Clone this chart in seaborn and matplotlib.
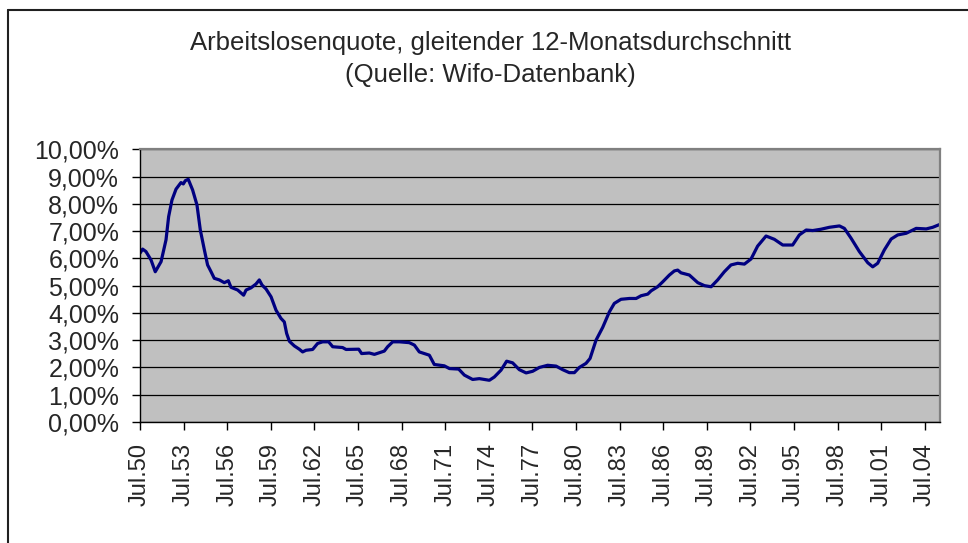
import matplotlib
matplotlib.use("Agg")
import matplotlib.pyplot as plt
from matplotlib.lines import Line2D
import seaborn as sns
import pandas as pd

# 12-month moving average of the unemployment rate
years = [1950.50, 1950.68, 1950.91, 1951.26, 1951.55, 1951.95, 1952.29, 1952.47, 1952.70, 1952.98,
         1953.32, 1953.48, 1953.62, 1953.82, 1954.12, 1954.42, 1954.65, 1954.93, 1955.15, 1955.39,
         1955.61, 1955.96, 1956.30, 1956.58, 1956.76, 1957.22, 1957.63, 1957.80, 1958.14, 1958.48,
         1958.71, 1958.90, 1959.17, 1959.52, 1959.86, 1960.20, 1960.43, 1960.59, 1960.78, 1961.12,
         1961.46, 1961.69, 1961.92, 1962.38, 1962.72, 1963.07, 1963.48, 1963.76, 1964.44, 1964.68,
         1965.55, 1965.75, 1966.28, 1966.63, 1967.31, 1967.54, 1967.89, 1968.35, 1969.03, 1969.38,
         1969.72, 1970.41, 1970.75, 1971.44, 1971.79, 1972.43, 1972.82, 1973.39, 1973.85, 1974.54,
         1974.88, 1975.34, 1975.73, 1976.14, 1976.60, 1977.07, 1977.52, 1977.98, 1978.55, 1979.13,
         1979.58, 1980.04, 1980.39, 1980.73, 1981.19, 1981.47, 1981.88, 1982.34, 1982.80, 1983.14,
         1983.60, 1984.18, 1984.64, 1984.98, 1985.44, 1985.67, 1986.12, 1986.47, 1986.93, 1987.27,
         1987.50, 1987.73, 1988.30, 1988.88, 1989.34, 1989.80, 1990.25, 1990.71, 1991.17, 1991.63,
         1992.09, 1992.55, 1993.00, 1993.58, 1994.15, 1994.73, 1995.41, 1995.87, 1996.34, 1996.79,
         1997.37, 1997.94, 1998.63, 1998.97, 1999.43, 2000.00, 2000.58, 2000.92, 2001.26, 2001.72,
         2002.19, 2002.64, 2003.22, 2003.91, 2004.60, 2005.05, 2005.56]
rate = [6.19, 6.34, 6.25, 5.94, 5.51, 5.88, 6.68, 7.53, 8.14, 8.54,
        8.78, 8.73, 8.85, 8.90, 8.51, 7.96, 7.04, 6.31, 5.76, 5.51,
        5.27, 5.21, 5.11, 5.18, 4.94, 4.84, 4.65, 4.84, 4.92, 5.06,
        5.21, 5.02, 4.88, 4.59, 4.10, 3.80, 3.67, 3.25, 2.96, 2.79,
        2.67, 2.57, 2.63, 2.66, 2.88, 2.94, 2.94, 2.76, 2.73, 2.66,
        2.67, 2.51, 2.53, 2.48, 2.60, 2.76, 2.94, 2.94, 2.91, 2.82,
        2.57, 2.45, 2.11, 2.06, 1.96, 1.94, 1.72, 1.56, 1.59, 1.53,
        1.65, 1.90, 2.23, 2.17, 1.92, 1.80, 1.86, 2.00, 2.08, 2.05,
        1.92, 1.81, 1.81, 2.00, 2.15, 2.33, 3.00, 3.47, 4.04, 4.35,
        4.50, 4.53, 4.53, 4.63, 4.69, 4.81, 4.96, 5.14, 5.39, 5.54,
        5.57, 5.47, 5.39, 5.11, 5.00, 4.96, 5.21, 5.51, 5.76, 5.82,
        5.79, 5.98, 6.45, 6.82, 6.70, 6.49, 6.49, 6.86, 7.04, 7.02,
        7.07, 7.14, 7.19, 7.10, 6.74, 6.25, 5.84, 5.69, 5.82, 6.31,
        6.71, 6.86, 6.92, 7.10, 7.08, 7.14, 7.25]

tick_years = [1950.5 + 3 * i for i in range(19)]
tick_labels = ["Jul.50", "Jul.53", "Jul.56", "Jul.59", "Jul.62", "Jul.65", "Jul.68",
               "Jul.71", "Jul.74", "Jul.77", "Jul.80", "Jul.83", "Jul.86", "Jul.89",
               "Jul.92", "Jul.95", "Jul.98", "Jul.01", "Jul.04"]
y_ticks = list(range(11))
y_labels = ["0,00%", "1,00%", "2,00%", "3,00%", "4,00%", "5,00%",
            "6,00%", "7,00%", "8,00%", "9,00%", "10,00%"]

df = pd.DataFrame({"year": years, "rate": rate})

sns.set_style("white")
plt.rcParams["font.family"] = ["Liberation Sans", "DejaVu Sans"]

fig = plt.figure(figsize=(9.68, 5.43), dpi=100)
ax = fig.add_axes([140 / 968, 1 - 422 / 543, 800 / 968, (422 - 149.3) / 543])
ax.set_facecolor("#c0c0c0")

sns.lineplot(data=df, x="year", y="rate", ax=ax, color="#000080", linewidth=2.3)

ax.set_xlim(1950.5, 2005.55)
ax.set_ylim(0, 10)
ax.set_xticks(tick_years)
ax.set_xticklabels(tick_labels, rotation=90, fontsize=17)
ax.set_yticks(y_ticks)
ax.set_yticklabels(y_labels, fontsize=18)
ax.set_xlabel("")
ax.set_ylabel("")

ax.yaxis.grid(True, color="black", linewidth=0.9)
ax.set_axisbelow(True)
ax.tick_params(axis="both", direction="out", length=6, width=1, color="black", pad=9,
               bottom=True, left=True)

for side in ["top", "right"]:
    ax.spines[side].set_color("#808080")
    ax.spines[side].set_linewidth(1.6)
for side in ["left", "bottom"]:
    ax.spines[side].set_color("black")
    ax.spines[side].set_linewidth(1)

fig.text(490 / 968, 1 - 50 / 543, "Arbeitslosenquote, gleitender 12-Monatsdurchschnitt",
         ha="center", va="baseline", fontsize=18.5)
fig.text(490 / 968, 1 - 82 / 543, "(Quelle: Wifo-Datenbank)",
         ha="center", va="baseline", fontsize=18.5)

# outer chart frame: only the left and top edges fall inside the image
x0, y0 = 8 / 968, 1 - 10 / 543
fig.add_artist(Line2D([x0, x0], [-0.05, y0], transform=fig.transFigure, color="#202020", lw=1.5))
fig.add_artist(Line2D([x0, 1.05], [y0, y0], transform=fig.transFigure, color="#202020", lw=1.5))

fig.savefig("out.png", dpi=100)
